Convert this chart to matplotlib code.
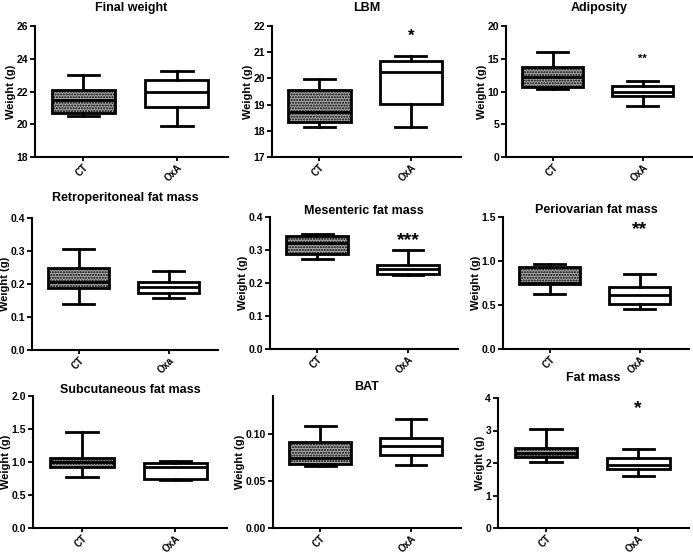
'''
box plots of body composition, CT vs OxA
'''
import matplotlib
matplotlib.use('Agg')
import matplotlib.pyplot as plt
import numpy as np

plt.rcParams['font.family'] = ['Liberation Sans', 'DejaVu Sans']
plt.rcParams['font.weight'] = 'bold'

titles = ['Final weight', 'LBM', 'Adiposity',
          'Retroperitoneal fat mass', 'Mesenteric fat mass', 'Periovarian fat mass',
          'Subcutaneous fat mass', 'BAT', 'Fat mass']
groups = [['CT', 'OxA'], ['CT', 'OxA'], ['CT', 'OxA'],
          ['CT', 'Oxa'], ['CT', 'OxA'], ['CT', 'OxA'],
          ['CT', 'OxA'], ['CT', 'OxA'], ['CT', 'OxA']]

# whisker low, q1, median, q3, whisker high
ct_summary = [
    [20.52, 20.68, 21.5, 22.1, 23.0],
    [18.16, 18.32, 18.71, 19.56, 19.96],
    [10.36, 10.76, 12.28, 13.7, 15.99],
    [0.139, 0.188, 0.207, 0.249, 0.307],
    [0.274, 0.288, 0.321, 0.341, 0.349],
    [0.625, 0.739, 0.75, 0.932, 0.966],
    [0.78, 0.92, 1.0, 1.055, 1.45],
    [0.0657, 0.068, 0.0745, 0.091, 0.108],
    [2.03, 2.2, 2.32, 2.47, 3.06],
]
oxa_summary = [
    [19.87, 21.03, 22.0, 22.71, 23.28],
    [18.13, 19.01, 20.25, 20.66, 20.85],
    [7.72, 9.34, 9.9, 10.86, 11.62],
    [0.158, 0.174, 0.191, 0.207, 0.239],
    [0.224, 0.227, 0.242, 0.255, 0.3],
    [0.456, 0.509, 0.618, 0.705, 0.855],
    [0.72, 0.75, 0.93, 0.99, 1.02],
    [0.0668, 0.0773, 0.0867, 0.0958, 0.1157],
    [1.61, 1.81, 1.94, 2.14, 2.44],
]
stars = ['', '*', '**', '', '***', '**', '', '', '*']
star_y = [None, 21.6, 15.0, None, 0.328, 1.36, None, None, 3.66]

y_ranges = [(18, 26, 2), (17, 22, 1), (0, 20, 5),
            (0, 0.4, 0.1), (0, 0.4, 0.1), (0, 1.5, 0.5),
            (0, 2.0, 0.5), (0, 0.10, 0.05), (0, 4, 1)]
y_tops = [26, 22, 20, 0.4, 0.4, 1.5, 2.0, 0.14, 4]
y_fmt = ['%d', '%d', '%d', '%.1f', '%.1f', '%.1f', '%.1f', '%.2f', '%d']

# axes rectangles in pixels: left, right, top, bottom
rects = [(35, 228, 26, 157), (272, 461, 26, 157), (506, 692, 26, 157),
         (32, 218, 218, 350), (270, 458, 217, 349), (503, 689, 217, 349),
         (33, 227, 396, 528), (273, 461, 396, 528), (498, 689, 398, 528)]
title_pad = [11, 11, 11, 12, 2, 3, 2, 4, 12]
star_size = [10, 12, 8, 10, 14, 14, 10, 10, 14]

W, H = 693, 555
fig = plt.figure(figsize=(W / 100, H / 100), dpi=100)

def addax(fig, L, R, T, B):
    return fig.add_axes([L / W, 1 - B / H, (R - L) / W, (B - T) / H])

for i in range(9):
    ax = addax(fig, *rects[i])
    stats = []
    for s, lab in zip([ct_summary[i], oxa_summary[i]], groups[i]):
        stats.append(dict(whislo=s[0], q1=s[1], med=s[2], q3=s[3], whishi=s[4], label=lab))
    lw = 2.0
    bp = ax.bxp(stats, positions=[1, 2], widths=0.68, patch_artist=True, showfliers=False,
                boxprops=dict(linewidth=lw, edgecolor='black'),
                whiskerprops=dict(linewidth=lw, color='black'),
                capprops=dict(linewidth=lw, color='black'),
                medianprops=dict(linewidth=lw, color='black'))
    bp['boxes'][0].set_facecolor('#a8a8a8')
    bp['boxes'][0].set_hatch('......')
    bp['boxes'][0].set_zorder(2)
    bp['boxes'][1].set_facecolor('white')

    lo, hi, step = y_ranges[i]
    ax.set_ylim(lo, y_tops[i])
    ticks = np.arange(lo, hi + step / 2, step)
    ax.set_yticks(ticks)
    ax.set_yticklabels([y_fmt[i] % t for t in ticks])
    ax.set_xlim(0.48, 2.55)
    ax.set_xticks([1, 2])
    ax.set_xticklabels(groups[i], rotation=45, ha='right', rotation_mode='anchor')

    for side in ['top', 'right']:
        ax.spines[side].set_visible(False)
    for side in ['left', 'bottom']:
        ax.spines[side].set_linewidth(1.5)
    ax.tick_params(direction='out', length=3.5, width=1.3, labelsize=7.5, pad=1.5)
    ax.tick_params(axis='x', labelsize=7, length=3, pad=1)
    ax.set_ylabel('Weight (g)', fontsize=8, fontweight='bold', labelpad=0.5)
    ax.set_title(titles[i], fontsize=9, fontweight='bold', pad=title_pad[i])

    if stars[i]:
        ax.text(2, star_y[i], stars[i], ha='center', va='center',
                fontsize=star_size[i], fontweight='bold')

fig.savefig('out.png', dpi=100)
